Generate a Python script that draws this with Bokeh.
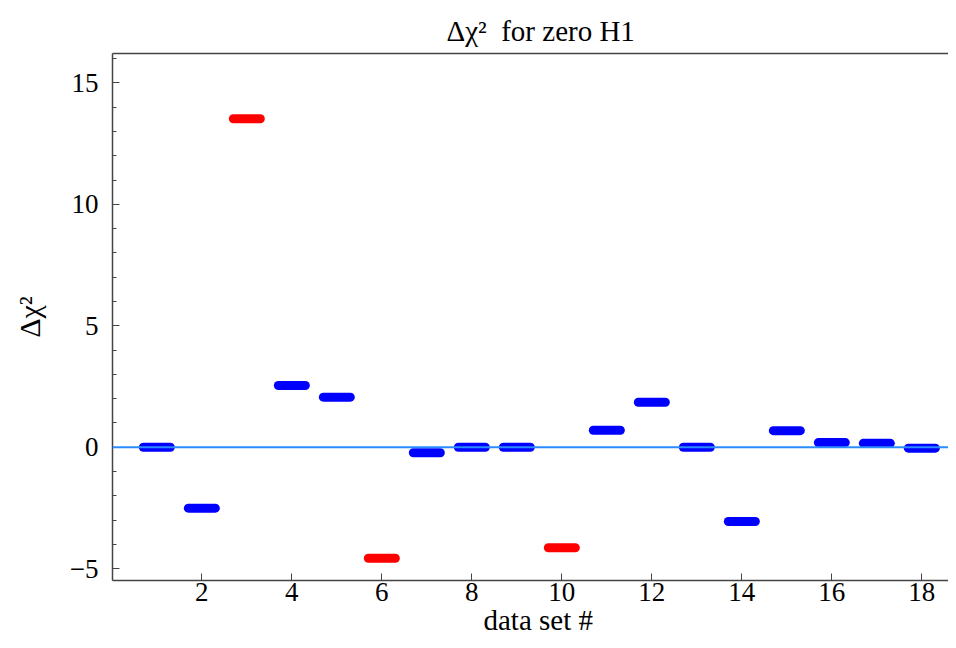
from bokeh.plotting import figure
from bokeh.models import (Range1d, FixedTicker, SingleIntervalTicker, LinearAxis,
                          Span, ColumnDataSource, Title)
from bokeh.embed import file_html
from bokeh.resources import INLINE

# ---- data ----
data_sets = list(range(1, 19))
delta_chi2 = [0.0, -2.51, 13.52, 2.54, 2.06, -4.57, -0.23, 0.0, 0.0,
              -4.14, 0.70, 1.85, 0.0, -3.06, 0.68, 0.19, 0.16, -0.04]
highlight = [False, False, True, False, False, True, False, False, False,
             True, False, False, False, False, False, False, False, False]
x_ticks = [2, 4, 6, 8, 10, 12, 14, 16, 18]
title_text = "Δχ²\u2002for zero H1"
x_label = "data set #"
y_label = "Δχ²"

FONT = "Liberation Serif"
W, H = 948, 640
FL, FT, FB = 112, 53, 580          # frame left / top / bottom in canvas px
X0, XPX = 0.015, 45.0               # x at frame left, px per x-unit
Y0PX, YPX = 446.7, 24.29            # canvas px of y=0, px per y-unit
x_end = X0 + (W - FL) / XPX
y_end = (Y0PX - FT) / YPX
y_start = (Y0PX - FB) / YPX

half = 0.3
src = ColumnDataSource(dict(
    x0=[d - half for d in data_sets],
    x1=[d + half for d in data_sets],
    y=delta_chi2,
    color=["#ff0000" if h else "#0000ff" for h in highlight],
))

p = figure(width=W, height=H, output_backend="svg", toolbar_location=None,
           x_range=Range1d(X0, x_end), y_range=Range1d(y_start, y_end),
           min_border_left=FL, min_border_right=0, min_border_top=FT,
           min_border_bottom=H - FB)
p.grid.visible = False
p.outline_line_color = None
p.background_fill_color = "white"
p.border_fill_color = "white"

p.title.text = title_text
p.title.align = "left"
p.title.offset = 446 - FL
p.title.text_font = FONT
p.title.text_font_size = "29px"
p.title.text_font_style = "normal"
p.title.text_color = "black"
p.title.standoff = 14

# zero line
p.add_layout(Span(location=0, dimension="width", line_color="#2a8cff", line_width=2))

p.segment(x0="x0", x1="x1", y0="y", y1="y", source=src, line_color="color",
          line_width=9, line_cap="round")

AX = "#444444"
xa = p.xaxis[0]
xa.ticker = FixedTicker(ticks=x_ticks)
ya = p.yaxis[0]
ya.ticker = SingleIntervalTicker(interval=5, num_minor_ticks=5)
ya.major_label_overrides = {-5: "−5"}
ya.major_label_orientation = "horizontal"
ya.axis_label = y_label

for ax in (xa, ya):
    ax.axis_line_color = AX
    ax.axis_line_width = 1.5
    ax.major_tick_line_color = AX
    ax.minor_tick_line_color = AX
    ax.major_tick_in = 7
    ax.major_tick_out = 0
    ax.minor_tick_in = 4
    ax.minor_tick_out = 0
    ax.major_label_text_font = FONT
    ax.major_label_text_font_size = "27px"
    ax.major_label_text_color = "black"
    ax.axis_label_text_font = FONT
    ax.axis_label_text_font_size = "30px"
    ax.axis_label_text_font_style = "normal"
    ax.axis_label_text_color = "black"

xa.major_label_standoff = 2
ya.major_label_standoff = 14
ya.axis_label_standoff = 21

# x-axis label as a below-title so it can be shifted like the reference
p.add_layout(Title(text=x_label, align="left", offset=483 - FL, text_font=FONT,
                   text_font_size="29px", text_font_style="normal",
                   text_color="black", standoff=-4), "below")

top = LinearAxis(ticker=FixedTicker(ticks=[]), major_label_text_font_size="0px",
                 axis_line_color=AX, axis_line_width=1.5, major_tick_in=0,
                 major_tick_out=0, minor_tick_in=0, minor_tick_out=0,
                 major_label_standoff=0)
p.add_layout(top, "above")

open("out.html", "w").write(file_html(p, INLINE))
